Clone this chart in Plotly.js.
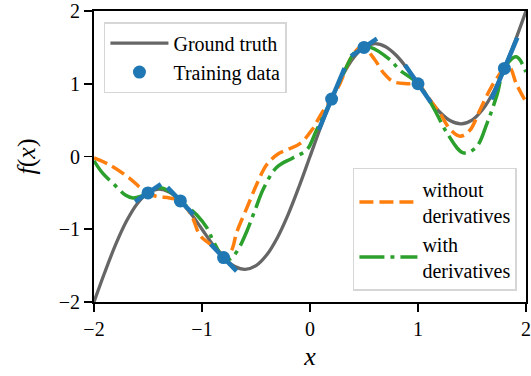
<!DOCTYPE html>
<html>
<head>
<meta charset="utf-8">
<script src="https://cdn.plot.ly/plotly-3.0.1.min.js"></script>
<style>
html,body{margin:0;padding:0;background:#fff}
#chart{width:531px;height:376px}
#warm{position:absolute;left:-2000px;top:0;font-family:'Liberation Serif';font-size:20px;white-space:nowrap}
svg text, svg tspan{font-family:'Liberation Serif' !important}
</style>
</head>
<body>
<div id="warm">Ground truth Training data without derivatives with −2 −1 0 1 2 <i>f</i>(<i>x</i>)</div>
<div id="chart"></div>
<script>
// Ground truth curve
const truthX = [-2.0,-1.9,-1.8,-1.7,-1.6,-1.5,-1.4,-1.3,-1.2,-1.1,-1.0,-0.9,-0.8,-0.7,-0.6,-0.5,-0.4,-0.3,-0.2,-0.1,0.0,0.1,0.2,0.3,0.4,0.5,0.6,0.7,0.8,0.9,1.0,1.1,1.2,1.3,1.4,1.5,1.6,1.7,1.8,1.9,2.0];
const truthY = [-2.0,-1.591,-1.212,-0.891,-0.649,-0.5,-0.449,-0.491,-0.612,-0.791,-1.0,-1.209,-1.388,-1.509,-1.551,-1.5,-1.351,-1.109,-0.788,-0.409,0.0,0.409,0.788,1.109,1.351,1.5,1.551,1.509,1.388,1.209,1.0,0.791,0.612,0.491,0.449,0.5,0.649,0.891,1.212,1.591,2.0];

// Training data and observed derivatives
const trainX = [-1.5,-1.2,-0.8,0.2,0.5,1.0,1.8];
const trainY = [-0.5,-0.61,-1.39,0.79,1.5,1.0,1.21];
const trainDeriv = [1.0,-1.54,-1.54,3.54,1.0,-2.14,3.54];
const derivHalfWidth = 0.12;

// GP mean without derivatives
const woX = [-2.0,-1.85,-1.67,-1.57,-1.5,-1.42,-1.3,-1.2,-1.1,-1.02,-0.93,-0.85,-0.8,-0.76,-0.72,-0.68,-0.58,-0.49,-0.4,-0.3,-0.2,-0.09,0.02,0.11,0.2,0.28,0.37,0.46,0.5,0.6,0.68,0.77,0.9,1.0,1.08,1.2,1.3,1.39,1.48,1.57,1.67,1.75,1.8,1.85,1.91,2.0];
const woY = [-0.02,-0.12,-0.3,-0.43,-0.5,-0.55,-0.57,-0.61,-0.8,-1.08,-1.2,-1.3,-1.35,-1.36,-1.27,-1.05,-0.69,-0.37,-0.11,0.03,0.1,0.18,0.37,0.6,0.79,1.01,1.33,1.5,1.5,1.33,1.15,1.03,1.0,1.0,0.84,0.6,0.37,0.28,0.36,0.63,0.93,1.12,1.21,1.22,1.0,0.75];

// GP mean with derivatives
const wX = [-2.0,-1.92,-1.81,-1.71,-1.64,-1.57,-1.5,-1.39,-1.3,-1.2,-1.05,-0.95,-0.9,-0.8,-0.74,-0.67,-0.58,-0.51,-0.43,-0.31,-0.16,-0.03,0.06,0.2,0.31,0.43,0.5,0.56,0.74,0.83,1.0,1.14,1.27,1.42,1.54,1.64,1.73,1.8,1.91,2.0];
const wY = [-0.06,-0.23,-0.39,-0.53,-0.57,-0.55,-0.5,-0.43,-0.48,-0.61,-0.8,-0.99,-1.15,-1.39,-1.41,-1.29,-1.01,-0.74,-0.44,-0.15,-0.02,0.09,0.36,0.79,1.15,1.46,1.5,1.5,1.33,1.19,1.0,0.68,0.32,0.05,0.13,0.46,0.84,1.21,1.37,1.16];

const tickVals = [-2,-1,0,1,2];

// derivative segments built from the data
const segX = [], segY = [];
for (let i = 0; i < trainX.length; i++) {
  segX.push(trainX[i] - derivHalfWidth, trainX[i] + derivHalfWidth, null);
  segY.push(trainY[i] - derivHalfWidth * trainDeriv[i], trainY[i] + derivHalfWidth * trainDeriv[i], null);
}

const serifFamily = 'Liberation Serif';

const traces = [
  {x: truthX, y: truthY, mode: 'lines', name: 'Ground truth', line: {color: '#666666', width: 3.3, shape: 'spline'}, legend: 'legend'},
  {x: woX, y: woY, mode: 'lines', name: 'without<br>derivatives', line: {color: '#ff7f0e', width: 3.5, dash: '14px,6px', shape: 'spline'}, legend: 'legend2'},
  {x: wX, y: wY, mode: 'lines', name: 'with<br>derivatives', line: {color: '#2ca02c', width: 3.5, dash: '25px,6px,4px,6px', shape: 'spline'}, legend: 'legend2'},
  {x: segX, y: segY, mode: 'lines', showlegend: false, line: {color: '#1f77b4', width: 4.5}, hoverinfo: 'skip'},
  {x: trainX, y: trainY, mode: 'markers', name: 'Training data', marker: {color: '#1f77b4', size: 13}, legend: 'legend'}
];

function axis(titleText, standoff) {
  return {
    range: [-2, 2], tickvals: tickVals, ticks: 'outside', ticklen: 8, tickwidth: 1.6, tickcolor: '#000',
    showline: true, linecolor: '#000', linewidth: 2, mirror: true, showgrid: false, zeroline: false,
    tickfont: {family: serifFamily, size: 20, color: '#000'}, ticklabeloverflow: 'allow', fixedrange: true,
    title: {text: titleText, font: {family: serifFamily, size: 26, color: '#000'}, standoff: standoff}
  };
}

const layout = {
  width: 531, height: 376,
  margin: {l: 94, r: 5, t: 11, b: 74},
  paper_bgcolor: '#fff', plot_bgcolor: '#fff',
  font: {family: serifFamily, size: 20, color: '#000'},
  xaxis: axis('<i>x</i>', 8),
  yaxis: axis('<i>f</i>(<i>x</i>)', 16),
  legend: {x: 0.023, y: 0.962, xanchor: 'left', yanchor: 'top', bgcolor: 'rgba(255,255,255,0.8)', bordercolor: '#d6d6d6', borderwidth: 1.5, font: {family: serifFamily, size: 20}, itemwidth: 58, tracegroupgap: 0},
  legend2: {x: 0.979, y: 0.038, xanchor: 'right', yanchor: 'bottom', bgcolor: 'rgba(255,255,255,0.8)', bordercolor: '#d6d6d6', borderwidth: 1.5, font: {family: serifFamily, size: 20}, itemwidth: 58, tracegroupgap: 0},
  showlegend: true
};

const config = {displayModeBar: false, staticPlot: true};

// force font resolution before drawing
void document.getElementById('warm').offsetWidth;
Plotly.newPlot('chart', traces, layout, config);

// redraw once fonts are confirmed ready
const redraw = () => Plotly.newPlot('chart', traces, layout, config);
if (document.fonts && document.fonts.load) {
  Promise.all([
    document.fonts.load('20px "Liberation Serif"'),
    document.fonts.load('italic 26px "Liberation Serif"')
  ]).then(() => document.fonts.ready).then(() => { redraw(); setTimeout(redraw, 150); });
} else {
  setTimeout(redraw, 150);
}
</script>
</body>
</html>
